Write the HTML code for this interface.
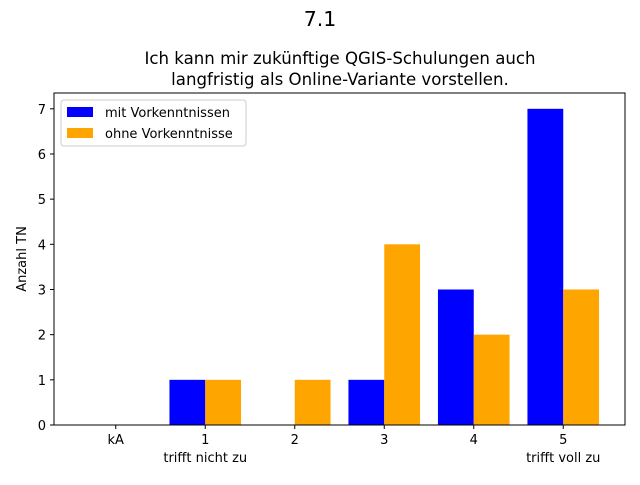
<!DOCTYPE html>
<html><head><meta charset="utf-8"><style>
body{margin:0;background:#fff;}
svg text{font-family:"DejaVu Sans","Liberation Sans",sans-serif;fill:#000;}
</style></head><body>
<svg id="chart" width="640" height="480" xmlns="http://www.w3.org/2000/svg">
<rect width="640" height="480" fill="#fff"/>
<text x="320" y="26" text-anchor="middle" font-size="20.5">7.1</text>
<text x="340" y="64" text-anchor="middle" font-size="16.6">Ich kann mir zukünftige QGIS-Schulungen auch</text>
<text x="340" y="85" text-anchor="middle" font-size="16.6">langfristig als Online-Variante vorstellen.</text>
<g id="plot"></g>
</svg>
<script>
const categories=["kA","1","2","3","4","5"];
const subLabels=["","trifft nicht zu","","","","trifft voll zu"];
const seriesMit=[0,1,0,1,3,7];
const seriesOhne=[0,1,1,4,2,3];
const yTicks=[0,1,2,3,4,5,6,7];
const seriesNames=["mit Vorkenntnissen","ohne Vorkenntnisse"];

const L=54,R=625,T=93,B=425;
const xmin=-0.69,xmax=5.69,ymax=7.35;
const xs=v=>L+(v-xmin)/(xmax-xmin)*(R-L);
const ys=v=>B-v/ymax*(B-T);
const NS="http://www.w3.org/2000/svg";
const g=document.getElementById('plot');
function mk(t,a){const e=document.createElementNS(NS,t);for(const k in a)e.setAttribute(k,a[k]);g.appendChild(e);return e;}

[[seriesMit,-0.2,"#0000ff","bar-mit"],[seriesOhne,0.2,"#ffa500","bar-ohne"]].forEach(([s,off,c,n])=>{
  s.forEach((v,i)=>{
    const x0=xs(i+off-0.2),x1=xs(i+off+0.2);
    const r=mk('rect',{x:x0,y:ys(v),width:x1-x0,height:ys(0)-ys(v),fill:c});
    
    
  });
});
const fr=mk('rect',{x:L,y:T,width:R-L,height:B-T,fill:'none',stroke:'#000','stroke-width':1});


categories.forEach((c,i)=>{
  const x=xs(i);
  mk('line',{x1:x,x2:x,y1:B,y2:B+4,stroke:'#000'});
  const t=mk('text',{x:x,y:B+19,'text-anchor':'middle','font-size':13});
  t.textContent=c;
  
  
  if(subLabels[i]){
    const s=mk('text',{x:x,y:B+37,'text-anchor':'middle','font-size':13});
    s.textContent=subLabels[i];
    
    
  }
});
yTicks.forEach(v=>{
  const y=ys(v);
  mk('line',{x1:L-4,x2:L,y1:y,y2:y,stroke:'#000'});
  const t=mk('text',{x:L-8,y:y+5,'text-anchor':'end','font-size':13});
  t.textContent=v;
  
  
});
const yt=mk('text',{x:26,y:(T+B)/2,'text-anchor':'middle','font-size':13,transform:`rotate(-90 26 ${(T+B)/2})`});
yt.textContent="Anzahl TN";



const lg=mk('rect',{x:61,y:100,width:185,height:46,rx:3,fill:'#fff',stroke:'#ccc'});


[["#0000ff",112],["#ffa500",133]].forEach(([c,y],i)=>{
  mk('rect',{x:67,y:y-5,width:26,height:10,fill:c});
  const t=mk('text',{x:105,y:y+5,'font-size':13});
  t.textContent=seriesNames[i];
  
  
});
</script>
</body></html>
